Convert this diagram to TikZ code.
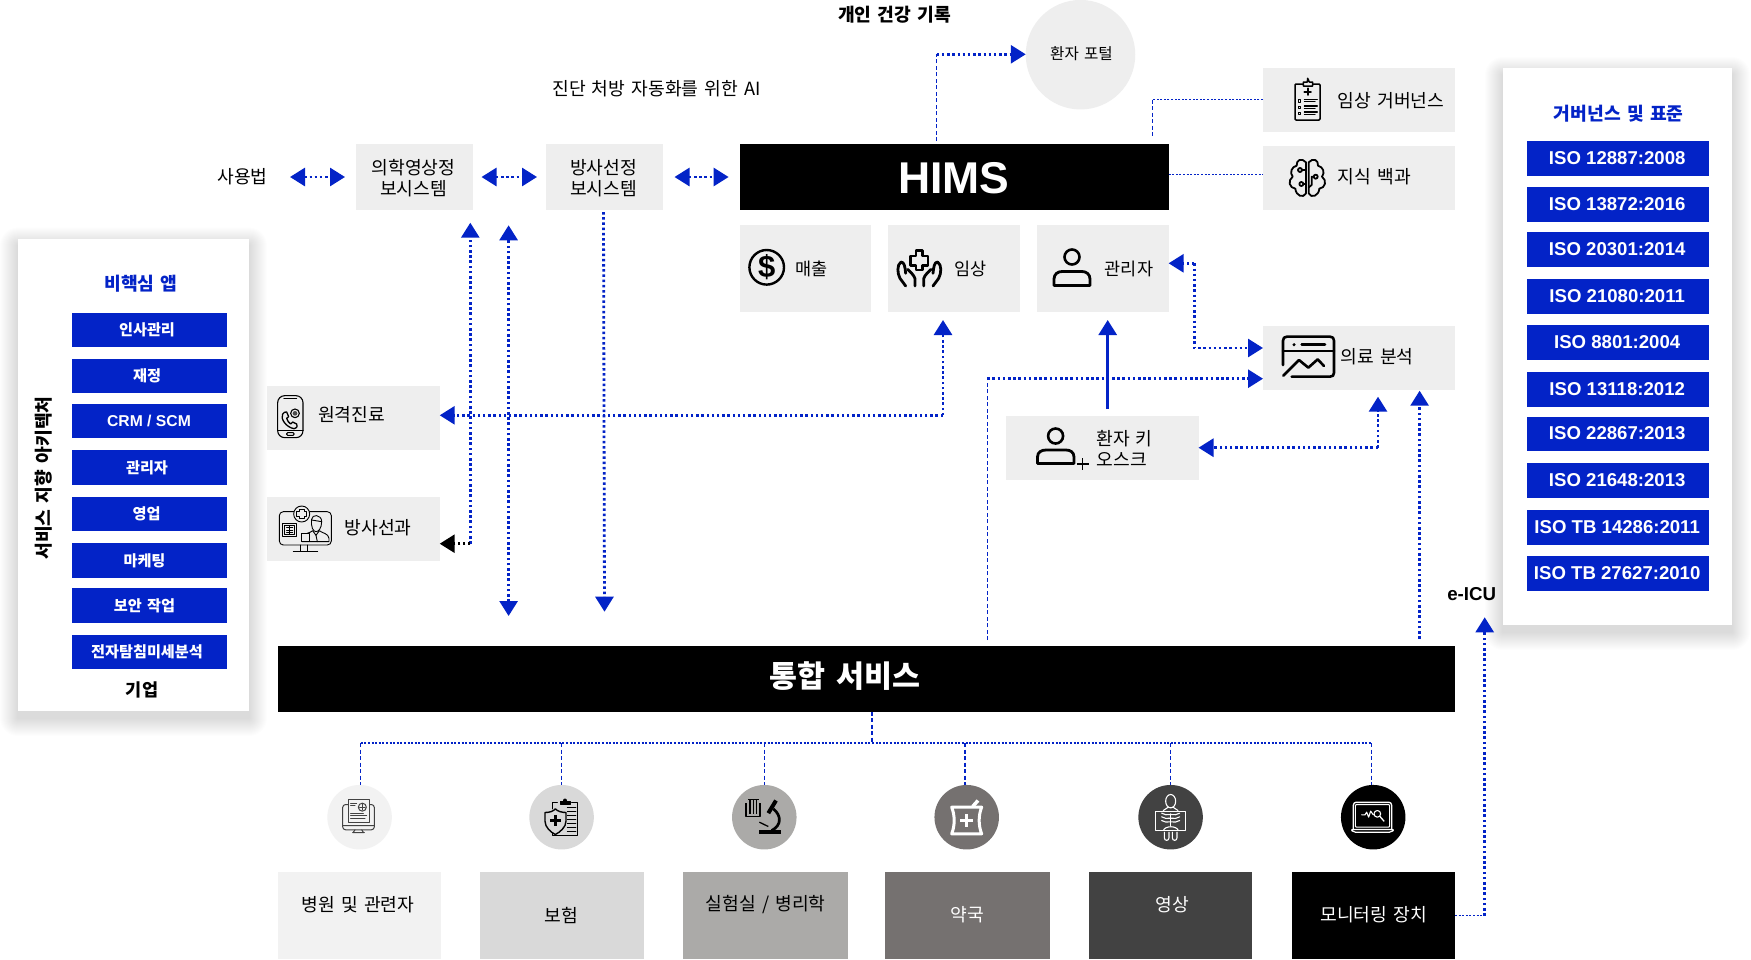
\documentclass[tikz,border=0pt]{standalone}
\usepackage{fontspec}
\setmainfont[WordSpace=1.5]{Noto Sans CJK KR}
\newfontfamily\lat{Liberation Sans}
\usetikzlibrary{arrows.meta,calc}
\definecolor{ibm}{HTML}{0323C7}
\definecolor{pale}{HTML}{EEEEEE}
\definecolor{sA}{HTML}{F2F2F2}
\definecolor{sB}{HTML}{D9D9D9}
\definecolor{sC}{HTML}{ABAAA8}
\definecolor{sD}{HTML}{757170}
\definecolor{sE}{HTML}{424242}
\newcommand{\bx}[6]{\node[#6,minimum width={(#4)-(#2)},minimum height={(#5)-(#3)}] (#1) at ({((#2)+(#4))/2},{((#3)+(#5))/2}) {};}
\newcommand{\cardshadow}[4]{\foreach \e in {1,...,18}{\fill[black,opacity=.006,rounded corners=\e pt] ({#1-\e},{#2-\e+7}) rectangle ({#3+\e},{#4+\e+7});}}
\tikzset{
  x=1pt,y=-1pt,
  gbox/.style={fill=pale,inner sep=0,outer sep=0},
  bluebox/.style={fill=ibm,inner sep=0,outer sep=0},
  blackbar/.style={fill=black,inner sep=0,outer sep=0},
  txt/.style={inner sep=0,outer sep=0,yshift=-1pt,font=\fontsize{18.2}{21}\selectfont,align=center},
  txtb/.style={inner sep=0,outer sep=0,yshift=-1pt,font=\fontsize{18.2}{21}\selectfont\bfseries,align=center},
  apptxt/.style={inner sep=0,outer sep=0,yshift=-1.2pt,text=white,font=\fontsize{15.2}{18}\selectfont\bfseries},
  isotxt/.style={inner sep=0,outer sep=0,yshift=-.6pt,text=white,font=\lat\fontsize{18.6}{22}\selectfont\bfseries},
  heavy/.style={draw=ibm,line width=2.8pt,dash pattern=on 2.5pt off 2.7pt},
  mid/.style={draw=ibm,line width=1.5pt,dash pattern=on 2pt off 1.6pt},
  thin dash/.style={draw=ibm,line width=1.2pt,dash pattern=on 4pt off 2.5pt},
  tip/.style={-{Triangle[width=18pt,length=15pt]}},
  tipboth/.style={{Triangle[width=18pt,length=15pt]}-{Triangle[width=18pt,length=15pt]}},
  zoomed/.style={x=.33333pt,y=-.33333pt},
  ico/.style={line width=#1,line join=round,line cap=round},
}
\begin{document}
\begin{tikzpicture}
\useasboundingbox (0,0) rectangle (1751,959);
\fill[white] (0,0) rectangle (1751,959);

% ---- cards
\cardshadow{18}{238.5}{249}{711}
\cardshadow{1503}{68}{1732}{625}
\bx{leftcard}{18}{238.5}{249}{711}{fill=white,inner sep=0,outer sep=0}
\bx{rightcard}{1503}{68}{1732}{625}{fill=white,inner sep=0,outer sep=0}

% ---- left list
\node[txtb,text=ibm] (apptitle) at (141,282.5) {비핵심 앱};
\foreach \n/\ya/\yb/\tx/\t in {a/312.5/346.9/147/인사관리,b/358.5/393/147/재정,d/450.3/484.6/147/관리자,e/496.6/531.3/146.5/영업,f/543.2/578/144.5/마케팅,g/588.3/623/144.5/보안 작업,h/634.6/669.2/147/전자탐침미세분석}{
  \bx{app\n}{72}{\ya}{226.5}{\yb}{bluebox}
  \node[apptxt] (apptxt\n) at (\tx,{(\ya+\yb)/2-1}) {\t};
}
\bx{appc}{72}{403.6}{226.5}{438.3}{bluebox}
\node[isotxt,font=\lat\fontsize{15.7}{18}\selectfont\bfseries] (apptxtc) at (149,420) {CRM / SCM};
\node[txtb,font=\fontsize{17.5}{20}\selectfont\bfseries] (enterprise) at (142,689) {기업};
\node[txtb,rotate=90] (soa) at (44,477) {서비스 지향 아키텍처};

% ---- right list
\node[txtb,text=ibm] (isotitle) at (1618.7,113) {거버넌스 및 표준};
\foreach \n/\ya/\yb/\t in {a/141/175.7/ISO 12887:2008,b/187.3/222/ISO 13872:2016,c/232.3/267/ISO 20301:2014,d/279/313.7/ISO 21080:2011,e/325.3/360/ISO 8801:2004,f/372/406.5/ISO 13118:2012,g/416.5/451/ISO 22867:2013,h/463/497.5/ISO 21648:2013,i/510/544.5/ISO TB 14286:2011,j/556/590.7/ISO TB 27627:2010}{
  \bx{iso\n}{1527}{\ya}{1708.5}{\yb}{bluebox}
  \node[isotxt] (isotxt\n) at (1617.2,{(\ya+\yb)/2-1}) {\t};
}

% ---- top row
\node[txt] (law) at (242.6,176) {사용법};
\bx{pacs}{355.5}{144}{472.6}{210}{gbox}
\node[txt,font=\fontsize{18.2}{21.5}\selectfont] (pacst) at (413.5,177) {의학영상정\\보시스템};
\bx{ris}{546}{144}{663}{210}{gbox}
\node[txt,font=\fontsize{18.2}{21.5}\selectfont] (rist) at (603.5,177) {방사선정\\보시스템};
\node[txt] (ai) at (656.5,88) {진단 처방 자동화를 위한 AI};
\bx{hims}{739.5}{144.3}{1168.6}{210.3}{blackbar}
\node[inner sep=0,text=white,font=\lat\fontsize{44.5}{50}\selectfont\bfseries] (himst) at (954,178.3) {HIMS};
\node[txtb] (phr) at (894.5,14) {개인 건강 기록};
\node[circle,fill=pale,minimum size=109.5pt,inner sep=0,outer sep=0] (portal) at (1080.5,54.7) {};
\node[txt,font=\fontsize{15.6}{18}\selectfont] (portalt) at (1081.5,52.7) {환자 포털};
\bx{gov}{1263}{67.5}{1455}{132}{gbox}
\node[txt] (govt) at (1391,99.7) {임상 거버넌스};
\bx{know}{1263}{145.5}{1455}{210.3}{gbox}
\node[txt] (knowt) at (1374.5,176) {지식 백과};

% ---- module row
\bx{rev}{739.5}{225.2}{871.4}{312}{gbox}
\node[txt,font=\fontsize{17.5}{20}\selectfont] (revt) at (811.7,267.7) {매출};
\bx{clin}{887.8}{225.2}{1020}{312}{gbox}
\node[txt,font=\fontsize{17.5}{20}\selectfont] (clint) at (970.4,267.7) {임상};
\bx{admin}{1036.7}{225.2}{1168.6}{312}{gbox}
\node[txt,font=\fontsize{17.5}{20}\selectfont] (admint) at (1129,267.7) {관리자};
\bx{analytics}{1263}{325.5}{1455}{390.3}{gbox}
\node[txt] (analyticst) at (1377,356) {의료 분석};
\bx{kiosk}{1006.3}{415.5}{1198.5}{480.3}{gbox}
\node[txt] (kiosk1) at (1124.5,438) {환자 키};
\node[txt] (kiosk2) at (1122,459) {오스크};
\bx{tele}{267}{385.5}{439.7}{450.3}{gbox}
\node[txt] (telet) at (351.5,414) {원격진료};
\bx{radio}{267}{496.8}{439.7}{561.3}{gbox}
\node[txt] (radiot) at (378,527) {방사선과};

% ---- integration bar
\bx{bus}{277.5}{645.7}{1455}{711.5}{blackbar}
\node[inner sep=0,text=white,font=\fontsize{30.4}{34}\selectfont\bfseries] (bust) at (845,676.5) {통합 서비스};
\node[inner sep=0,font=\lat\fontsize{18.7}{22}\selectfont\bfseries] (eicu) at (1471.7,594) {e-ICU};

% ---- bottom row
\foreach \n/\xa/\xb/\cx/\col in {a/277.7/441/359.6/sA,b/480/643.8/561.6/sB,c/682.5/847.6/764.3/sC,d/885.4/1049.8/966.7/sD,e/1089/1252.4/1170.6/sE,f/1291.7/1455/1373.2/black}{
  \bx{dom\n}{\xa}{872}{\xb}{959}{fill=\col,inner sep=0,outer sep=0}
  \node[circle,fill=\col,minimum size=64.5pt,inner sep=0,outer sep=0] (disc\n) at (\cx,817.2) {};
}
\node[txt] (domta) at (358,904) {병원 및 관련자};
\node[txt] (domtb) at (561.5,914) {보험};
\node[txt] (domtc) at (765.8,904) {실험실 / 병리학};
\node[txt,text=white] (domtd) at (967.7,914) {약국};
\node[txt,text=white] (domte) at (1172,904) {영상};
\node[txt,text=white] (domtf) at (1373.6,914) {모니터링 장치};

% ---- free ends
\coordinate (trunk) at (872,743);
\coordinate (lawarrow) at (290,177);
\coordinate (pacsarrow) at (345,177);
\coordinate (ra) at (481.5,177);
\coordinate (rb) at (537,177);
\coordinate (rc) at (674.5,177);
\coordinate (rd) at (728.6,177);
\coordinate (upA) at (470.3,222.7);
\coordinate (upB) at (508.6,225.3);
\coordinate (dnB) at (508.6,616);
\coordinate (dnC) at (604.5,611.7);
\coordinate (bend) at (470.3,543.7);
\coordinate (clinup) at (943,320);
\coordinate (clincorner) at (943,415.3);
\coordinate (phrA) at (936.7,141);
\coordinate (phrB) at (936.7,54.3);
\coordinate (govA) at (1152.5,137.7);
\coordinate (govB) at (1152.5,99.7);
\coordinate (adA) at (1194.4,263.3);
\coordinate (adB) at (1194.4,348);
\coordinate (fromBus) at (987.2,640);
\coordinate (fromBusC) at (987.2,378.7);
\coordinate (solidA) at (1107.7,320);
\coordinate (solidB) at (1107.7,409);
\coordinate (kioskB) at (1378,447.7);
\coordinate (kioskC) at (1378,396.7);
\coordinate (ecuA) at (1419.6,638.7);
\coordinate (ecuB) at (1419.6,390.7);
\coordinate (icuA) at (1484.7,915.7);
\coordinate (icuB) at (1484.7,617.3);
\coordinate (dropa) at (360.7,743);
\coordinate (dropb) at (561.6,743);
\coordinate (dropc) at (764.3,743);
\coordinate (dropd) at (965,743);
\coordinate (drope) at (1170.6,743);
\coordinate (dropf) at (1371.7,743);

% ---- connectors
\draw[heavy,tipboth] (lawarrow) -- (pacsarrow);
\draw[heavy,tipboth] (ra) -- (rb);
\draw[heavy,tipboth] (rc) -- (rd);
\draw[thin dash] (phrA) -- (phrB);
\draw[heavy,tip] (phrB) -- (portal.west |- phrB);
\draw[mid] (gov.west |- govB) -- (govB);
\draw[thin dash] (govB) -- (govA);
\draw[mid] (hims.east |- 0,174.7) -- (know.west |- 0,174.7);
\draw[heavy,tip] (bend) -- (upA);
\draw[draw=black,line width=2.8pt,dash pattern=on 2.6pt off 2.4pt,-{Triangle[width=18pt,length=15pt,fill=black]}] (bend) -- (radio.east |- bend);
\draw[heavy,tipboth] (dnB) -- (upB);
\draw[heavy,tip] (ris.south) ++(-1,2) -- (dnC);
\draw[heavy,tip] (clincorner) -- (tele.east |- clincorner);
\draw[heavy,tip] (clincorner) -- (clinup);
\draw[ibm,line width=2.8pt,tip] (solidB) -- (solidA);
\draw[thin dash] (fromBus) -- (fromBusC);
\draw[heavy,tip] (fromBusC) -- (analytics.west |- fromBusC);
\draw[heavy,tip] (adA) -- (adB) -- (analytics.west |- adB);
\draw[heavy,tip] (adA) -- (admin.east |- adA);
\draw[heavy,tip] (kioskB) -- (kioskC);
\draw[heavy,tip] (kioskB) -- (kiosk.east |- kioskB);
\draw[heavy,tip] (ecuA) -- (ecuB);
\draw[mid] (domf.east |- icuA) -- (icuA);
\draw[heavy,tip] (icuA) -- (icuB);
\draw[thin dash] (bus.south -| trunk) -- (trunk);
\draw[mid] (dropa) -- (dropf);
\foreach \n in {a,b,c,d,e,f}{\draw[thin dash] (drop\n) -- (drop\n |- disc\n.north);}

% ---- icon: dollar
\draw[line width=2.4pt] (766.7,267.3) circle (17.3);
\node[inner sep=0,font=\lat\fontsize{31}{34}\selectfont\bfseries] (dollar) at (766.7,267) {\$};

% ---- icon: hands and cross
\begin{scope}[shift={(740,230)},zoomed,ico=2.8pt]
\draw (528,62)--(548,62)--(548,78)--(564,78)--(564,106)--(548,106)--(548,120)--(528,120)--(528,106)--(512,106)--(512,78)--(528,78)--cycle;
\draw (497,168)--(480,145) .. controls (472,130) and (470,105) .. (483,96) .. controls (493,96) and (495,110) .. (497,130);
\draw (525,168)--(525,146) .. controls (522,135) and (510,125) .. (503,118);
\draw (579,168)--(596,145) .. controls (604,130) and (606,105) .. (593,96) .. controls (583,96) and (581,110) .. (579,130);
\draw (551,168)--(551,146) .. controls (554,135) and (566,125) .. (573,118);
\end{scope}

% ---- icon: persons
\draw[line width=2.6pt] (1072,257) circle (7.5);
\draw[line width=2.8pt,line join=round] (1054,285.5)--(1090,285.5)--(1090,279) .. controls (1090,274) and (1086,271.5) .. (1082,271.5)--(1062,271.5) .. controls (1058,271.5) and (1054,274) .. (1054,279)--cycle;
\draw[line width=2.6pt] (1055.6,436) circle (7.5);
\draw[line width=2.8pt,line join=round] (1037.5,463.5)--(1074,463.5)--(1074,457) .. controls (1074,452) and (1070,450) .. (1066,450)--(1046,450) .. controls (1041.5,450) and (1037.5,452) .. (1037.5,457)--cycle;
\draw[line width=1.2pt] (1076.5,464)--(1088.5,464) (1082.5,458)--(1082.5,470);

% ---- icon: chart
\begin{scope}[shift={(1275,330)},zoomed,ico=2.6pt]
\draw (24,105)--(24,32) .. controls (24,24) and (28,20) .. (36,20)--(165,20) .. controls (173,20) and (177,24) .. (177,32)--(177,128) .. controls (177,136) and (173,140) .. (165,140)--(50,140);
\draw (24,63)--(177,63);
\draw (80,44)--(150,44);
\fill (57,44) circle (5);
\draw (25,137)--(72,90)--(100,113)--(128,88)--(147,108);
\end{scope}

% ---- icon: clipboard
\begin{scope}[shift={(1270,70)},zoomed,ico=1.5pt]
\draw[rounded corners=1pt] (75,42) rectangle (150,150);
\draw[fill=pale] (100,48)--(100,36)--(112,36)--(113,25)--(118,36)--(128,36)--(128,48)--cycle;
\draw[line width=1.8pt] (113,55)--(113,75) (103,65)--(123,65);
\foreach \yy in {92,112,130}{\draw[line width=1pt] (84,{\yy-4}) rectangle (92,{\yy+4});\draw[line width=1.1pt] (103,{\yy-4})--(142,{\yy-4}) (103,{\yy+3})--(135,{\yy+3});}
\end{scope}

% ---- icon: brain
\begin{scope}[shift={(1270,70)},zoomed,ico=1.8pt]
\draw (108,277) .. controls (95,262) and (78,270) .. (80,287) .. controls (65,290) and (58,308) .. (68,320) .. controls (52,332) and (58,354) .. (76,356) .. controls (78,378) and (100,386) .. (108,370)--cycle;
\draw (116,277) .. controls (129,262) and (146,270) .. (144,287) .. controls (159,290) and (166,308) .. (156,320) .. controls (172,332) and (166,354) .. (148,356) .. controls (146,378) and (124,386) .. (116,370)--cycle;
\draw (90,300) circle (6) (94,342) circle (6) (137,320) circle (6);
\draw (96,300)--(108,300) (100,342)--(108,342) (131,320)--(125,320)--(125,345)--(116,352);
\end{scope}

% ---- icon: phone
\begin{scope}[shift={(270,390)},zoomed,ico=1.1pt]
\draw[rounded corners=7pt] (23,17) rectangle (99,143);
\draw (42,26)--(80,26) (23,122)--(99,122);
\draw[rounded corners=1pt] (50,128) rectangle (72,136);
\draw[line width=1.3pt] (38,72) .. controls (30,85) and (48,112) .. (72,116) .. controls (82,114) and (84,106) .. (80,102) -- (68,96) -- (62,102) .. controls (56,98) and (52,92) .. (50,85) -- (56,80) -- (50,66) .. controls (46,64) and (40,68) .. (38,72);
\draw (75,70) circle (13);
\fill[black!70] (75,70) circle (7);
\end{scope}

% ---- icon: doctor on a screen
\begin{scope}[shift={(270,390)},zoomed,ico=.9pt]
\draw[rounded corners=4pt] (28,365) rectangle (184,465);
\draw (90,465)--(90,484) (112,465)--(112,484) (70,484)--(143,484);
\draw[fill=pale] (95,372) circle (24);
\draw[line width=1pt] (88,358)--(102,358)--(102,365)--(110,365)--(110,379)--(102,379)--(102,386)--(88,386)--(88,379)--(80,379)--(80,365)--(88,365)--cycle;
\draw (38,400) rectangle (80,440);
\draw (44,406) rectangle (74,434);
\draw (59,408)--(59,432) (50,413)--(68,413) (50,420)--(68,420) (50,427)--(68,427);
\draw[fill=pale] (96,455)--(100,440) .. controls (105,428) and (120,430) .. (128,422)--(138,436)--(148,422) .. controls (158,430) and (175,430) .. (177,445)--(177,455)--cycle;
\draw[fill=pale] (125,388) .. controls (125,372) and (155,372) .. (155,395) .. controls (155,415) and (145,425) .. (138,425) .. controls (130,425) and (122,412) .. (125,388)--cycle;
\draw (125,390) .. controls (135,395) and (145,390) .. (155,395);
\draw[fill=pale] (95,430) rectangle (118,455);
\draw (138,436)--(142,455);
\end{scope}

% ---- disc icons, left
\begin{scope}[shift={(320,780.5)},zoomed,ico=1pt,draw=sE]
\draw[rounded corners=3pt] (68,72) rectangle (163,148);
\draw (68,135)--(163,135) (105,148)--(100,155) (125,148)--(130,155) (98,156)--(133,156);
\draw[fill=sA] (85,58) rectangle (148,125);
\draw[fill=sA,line width=1pt] (127,80) circle (12);
\draw[line width=1.3pt] (127,72)--(127,88) (119,80)--(135,80);
\draw (92,68)--(110,68) (92,76)--(105,76) (92,98)--(130,98) (92,106)--(140,106) (92,114)--(135,114);
\end{scope}
\begin{scope}[shift={(320,780.5)},zoomed,ico=1.2pt]
\draw (712,65)--(698,65)--(698,85) (755,65)--(772,65)--(772,165)--(698,165)--(698,155);
\draw[line width=1pt,fill=black] (720,62) rectangle (750,71);
\fill (735,60) circle (6);
\foreach \yy in {80,92,104,116,128,140,152}{\draw[line width=.8pt] (742,\yy)--(768,\yy);}
\draw[line width=1.4pt,fill=sB] (675,96) .. controls (690,96) and (700,92) .. (706,85) .. controls (712,92) and (725,96) .. (738,96)--(738,122) .. controls (738,140) and (720,155) .. (706,162) .. controls (692,155) and (675,140) .. (675,122)--cycle;
\draw[line width=3.2pt,line cap=butt] (706,104)--(706,136) (690,120)--(722,120);
\end{scope}
\begin{scope}[shift={(320,780.5)},zoomed,ico=1.2pt,line cap=butt]
\draw[line width=1.1pt] (1278,68)--(1278,108)--(1320,108)--(1320,68);
\draw[line width=1.2pt] (1290,58)--(1290,100) (1300,58)--(1300,100) (1310,58)--(1310,100);
\draw[line width=1.2pt] (1284,58)--(1316,58);
\draw[line width=4pt] (1345,98)--(1368,60);
\draw[line width=2.7pt] (1360,85) .. controls (1385,105) and (1385,135) .. (1355,150);
\draw[line width=1.3pt] (1318,125)--(1345,138);
\draw[line width=3.4pt] (1318,155)--(1382,155);
\end{scope}

% ---- disc icons, right
\begin{scope}[shift={(930,780.5)},zoomed,ico=1.6pt,white]
\draw[line width=3pt,line cap=butt] (65,80)--(155,80) .. controls (145,105) and (145,135) .. (155,160)--(65,160) .. controls (75,135) and (75,105) .. (65,80)--cycle;
\draw[line width=3.5pt,line cap=butt] (128,78)--(144,60);
\draw[line width=3.4pt,line cap=butt] (110,100)--(110,140) (90,120)--(130,120);
\end{scope}
\begin{scope}[shift={(930,780.5)},zoomed,ico=1.1pt,white]
\draw (722,62) ellipse (15 and 20);
\draw (715,80)--(700,90) (729,80)--(744,90);
\draw (677,92) rectangle (767,150);
\draw (722,100)--(722,135);
\foreach \yy in {102,113,124}{\draw (722,\yy) .. controls (712,{\yy+2}) and (702,{\yy+1}) .. (695,{\yy-4}) (722,\yy) .. controls (732,{\yy+2}) and (742,{\yy+1}) .. (749,{\yy-4});}
\draw (703,155)--(703,172) .. controls (703,182) and (717,182) .. (717,172)--(717,155);
\draw (727,155)--(727,172) .. controls (727,182) and (741,182) .. (741,172)--(741,155);
\draw (700,150) .. controls (705,135) and (740,135) .. (745,150);
\end{scope}
\begin{scope}[shift={(930,780.5)},zoomed,ico=1.1pt,white]
\draw[rounded corners=3pt,line width=1.3pt] (1270,145)--(1270,65)--(1385,65)--(1385,145);
\draw[rounded corners=1pt] (1276,72) rectangle (1379,140);
\draw[rounded corners=2pt,line width=1.2pt] (1262,147)--(1393,147)--(1385,155)--(1270,155)--cycle;
\draw (1295,103)--(1305,103)--(1310,95)--(1316,110)--(1322,92)--(1330,103);
\draw (1342,100) circle (10);
\draw[line width=1.3pt] (1350,108)--(1362,122);
\end{scope}
\end{tikzpicture}
\end{document}
